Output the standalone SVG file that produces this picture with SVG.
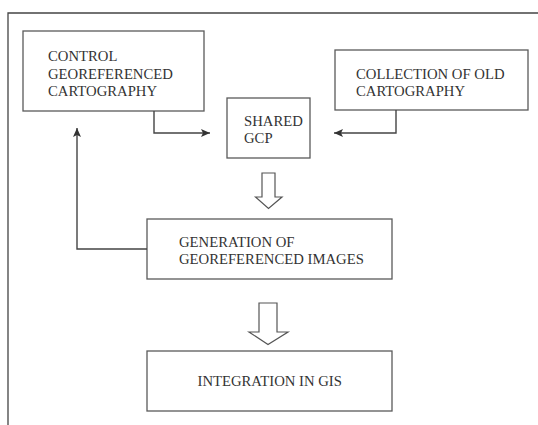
<svg xmlns="http://www.w3.org/2000/svg" width="538" height="425" viewBox="0 0 538 425">
<style>
.box{fill:#fff;stroke:#5a5a5a;stroke-width:1.3}
.t{font-family:"Liberation Serif","Times New Roman",serif;font-size:14.7px;fill:#333}
.ln{fill:none;stroke:#444;stroke-width:1.4}
.hol{fill:#fff;stroke:#555;stroke-width:1.2;stroke-linejoin:miter}
.frame{fill:none;stroke:#444;stroke-width:1.3}
</style>
<defs>
<marker id="ah" markerWidth="10" markerHeight="10" refX="9" refY="4" orient="auto" markerUnits="userSpaceOnUse">
<path d="M0,0 L9,4 L0,8 L2,4 Z" fill="#333"/>
</marker>
</defs>
<rect width="538" height="425" fill="#fff"/>
<path class="frame" d="M538,13 H8 V425"/>
<g id="control">
<rect class="box" x="23" y="31" width="181" height="80"/>
<text class="t" x="48" y="61">CONTROL</text>
<text class="t" x="48" y="78.5">GEOREFERENCED</text>
<text class="t" x="48" y="96">CARTOGRAPHY</text>
</g>
<g id="shared">
<rect class="box" x="227" y="98" width="83" height="60"/>
<text class="t" x="244" y="125.5">SHARED</text>
<text class="t" x="244" y="143">GCP</text>
</g>
<g id="collection">
<rect class="box" x="335" y="50" width="193" height="60"/>
<text class="t" x="356" y="79">COLLECTION OF OLD</text>
<text class="t" x="356" y="96">CARTOGRAPHY</text>
</g>
<g id="generation">
<rect class="box" x="147" y="219" width="245" height="60"/>
<text class="t" x="179" y="246.5">GENERATION OF</text>
<text class="t" x="179" y="264">GEOREFERENCED IMAGES</text>
</g>
<g id="integration">
<rect class="box" x="147" y="351" width="245" height="60"/>
<text class="t" x="197.5" y="386">INTEGRATION IN GIS</text>
</g>
<g id="connectors">
<path class="ln" d="M154,111 V133 H210" marker-end="url(#ah)"/>
<path class="ln" d="M396,110 V133 H334" marker-end="url(#ah)"/>
<path class="ln" d="M147,249 H77 V128" marker-end="url(#ah)"/>
<path class="hol" d="M262,173 H275 V197 H282 L268.5,208.5 L255.5,197 H262 Z"/>
<path class="hol" d="M259,303 H277 V332 H288 L268,344.5 L249,332 H259 Z"/>
</g>
</svg>
